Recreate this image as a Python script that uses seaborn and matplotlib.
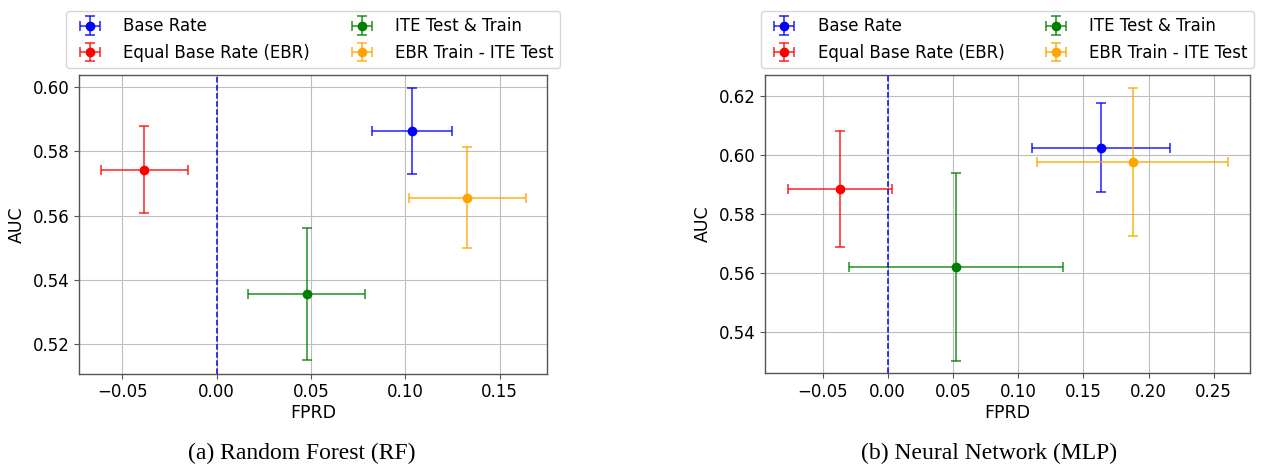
import matplotlib
matplotlib.use("Agg")
import matplotlib.pyplot as plt
import matplotlib.colors as mcolors
from matplotlib.container import ErrorbarContainer
from matplotlib.legend_handler import HandlerErrorbar
import seaborn as sns

# methods shown in both panels
methods = ["Base Rate", "Equal Base Rate (EBR)", "ITE Test & Train", "EBR Train - ITE Test"]
colors = ["blue", "red", "green", "orange"]

# (a) Random Forest
rf_fprd = [0.1037, -0.0385, 0.0477, 0.1329]
rf_fprd_err = [0.0212, 0.0230, 0.0310, 0.0311]
rf_auc = [0.5864, 0.5743, 0.5357, 0.5656]
rf_auc_err = [0.0134, 0.0136, 0.0205, 0.0158]

# (b) Neural Network
mlp_fprd = [0.1638, -0.0366, 0.0524, 0.1879]
mlp_fprd_err = [0.0528, 0.0402, 0.0823, 0.0734]
mlp_auc = [0.6025, 0.5885, 0.5620, 0.5976]
mlp_auc_err = [0.0152, 0.0197, 0.0318, 0.0250]

captions = ["(a) Random Forest (RF)", "(b) Neural Network (MLP)"]

sns.set_style("whitegrid", {"axes.edgecolor": "#555555", "grid.color": "#bdbdbd",
                            "text.color": "black", "axes.labelcolor": "black",
                            "xtick.color": "black", "ytick.color": "black"})
plt.rcParams["font.family"] = ["DejaVu Sans"]

fig = plt.figure(figsize=(12.81, 4.66), dpi=100)
ax1 = fig.add_axes([0.0619, 0.198, 0.3653, 0.641])
ax2 = fig.add_axes([0.5974, 0.199, 0.3784, 0.640])


def panel(ax, fprd, fprd_err, auc, auc_err, xlim, ylim, yticks, xticks):
    for i, name in enumerate(methods):
        ecol = mcolors.to_rgba(colors[i], 0.8)
        ax.errorbar(fprd[i], auc[i], xerr=fprd_err[i], yerr=auc_err[i],
                    fmt="o", color=colors[i], ecolor=ecol, markersize=6,
                    elinewidth=1.2, capsize=3.5, capthick=1.2, label=name)
    ax.axvline(0, color="blue", linestyle="--", linewidth=1.1)
    ax.set_xlim(*xlim)
    ax.set_ylim(*ylim)
    ax.set_xticks(xticks)
    ax.set_yticks(yticks)
    ax.set_xlabel("FPRD", fontsize=12.5, labelpad=2)
    ax.set_ylabel("AUC", fontsize=12.5, labelpad=5)
    ax.tick_params(labelsize=12, length=3.5, left=True, bottom=True, color="#555555")
    for s in ax.spines.values():
        s.set_linewidth(1.0)
    ax.legend(ncol=2, fontsize=12, loc="lower center", bbox_to_anchor=(0.5, 1.0),
              columnspacing=2.1, handletextpad=1.0, borderpad=0.4,
              labelspacing=0.5, borderaxespad=0.4, frameon=True,
              handler_map={ErrorbarContainer: HandlerErrorbar(xerr_size=0.6, yerr_size=0.55)})


panel(ax1, rf_fprd, rf_fprd_err, rf_auc, rf_auc_err,
      (-0.0729, 0.1753), (0.5108, 0.6038),
      [0.52, 0.54, 0.56, 0.58, 0.60], [-0.05, 0.0, 0.05, 0.10, 0.15])
panel(ax2, mlp_fprd, mlp_fprd_err, mlp_auc, mlp_auc_err,
      (-0.0939, 0.2778), (0.5259, 0.6271),
      [0.54, 0.56, 0.58, 0.60, 0.62], [-0.05, 0.0, 0.05, 0.10, 0.15, 0.20, 0.25])

fig.text(302 / 1281, 1 - 453 / 466, captions[0], ha="center", va="center",
         fontsize=17, family=["Liberation Serif"])
fig.text(989 / 1281, 1 - 453 / 466, captions[1], ha="center", va="center",
         fontsize=17, family=["Liberation Serif"])

fig.savefig("out.png", dpi=100)
